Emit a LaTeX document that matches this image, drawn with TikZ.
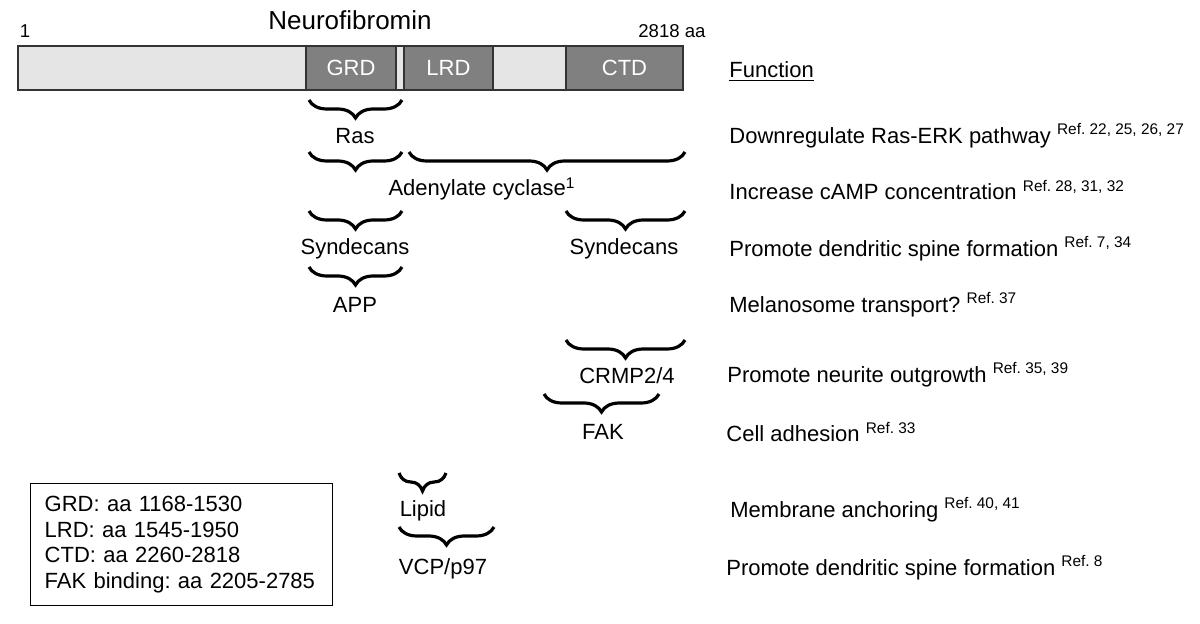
\documentclass[tikz,border=0pt]{standalone}
\usepackage{fontspec}
\setmainfont{Liberation Sans}
\usetikzlibrary{decorations.pathreplacing,positioning}

\tikzset{
  brc/.style={decorate, decoration={brace, mirror, amplitude=9pt}, line width=1.6pt},
  lbl/.style={inner sep=0pt, font=\fontsize{11}{13}\selectfont},
  fn/.style={anchor=west, inner sep=0pt, font=\fontsize{11}{13}\selectfont},
  dom/.style={draw=black!80, fill=gray, line width=0.9pt},
  domtxt/.style={inner sep=0pt, text=white, font=\fontsize{11}{13}\selectfont},
}
\newcommand\refs[1]{\raisebox{0.75ex}{\fontsize{7.7}{9}\selectfont Ref. #1}}
\frenchspacing

\begin{document}
\begin{tikzpicture}[x=0.5pt, y=-0.5pt]
\useasboundingbox (0,0) rectangle (1200,624);
% protein bar
\draw[draw=black!80, fill=gray!20, line width=0.9pt] (18,46) rectangle (683,90);
\foreach \a/\b/\t in {306/396/GRD, 404/493/LRD, 566/683/CTD} {
  \draw[dom] (\a,46) rectangle (\b,90);
  \node[domtxt] (\t) at ({(\a+\b)/2},68) {\t};
}
\node[lbl, font=\fontsize{13}{15}\selectfont] (title) at (350,20) {Neurofibromin};
\node[lbl, font=\fontsize{9.3}{11}\selectfont] (first) at (25,31) {1};
\node[lbl, font=\fontsize{9.3}{11}\selectfont, anchor=east] (last) at (706,31) {2818 aa};
\node[fn] (head) at (729,72) {\underline{Function}};

% binding partners
\coordinate (rasL) at (309,100);  \coordinate (rasR) at (402,100);
\coordinate (acAL) at (309,152);  \coordinate (acAR) at (402,152);
\coordinate (acBL) at (409,152);  \coordinate (acBR) at (685,152);
\coordinate (syAL) at (309,211);  \coordinate (syAR) at (402,211);
\coordinate (syBL) at (566,211);  \coordinate (syBR) at (685,211);
\coordinate (appL) at (309,267);  \coordinate (appR) at (402,267);
\coordinate (crmL) at (566,340);  \coordinate (crmR) at (685,340);
\coordinate (fakL) at (544,394);  \coordinate (fakR) at (659,394);
\coordinate (lipL) at (399,473);  \coordinate (lipR) at (446,473);
\coordinate (vcpL) at (399,527);  \coordinate (vcpR) at (494,527);
\draw[brc] (rasL) -- (rasR);
\draw[brc] (acAL) -- (acAR);
\draw[brc] (acBL) -- (acBR);
\draw[brc] (syAL) -- (syAR);
\draw[brc] (syBL) -- (syBR);
\draw[brc] (appL) -- (appR);
\draw[brc] (crmL) -- (crmR);
\draw[brc] (fakL) -- (fakR);
\draw[brc] (lipL) -- (lipR);
\draw[brc] (vcpL) -- (vcpR);

\node[lbl] (ras) at (355,136) {Ras};
\node[lbl] (ac) at (482,189) {Adenylate cyclase\textsuperscript{1}};
\node[lbl] (syA) at (355,249) {Syndecans};
\node[lbl] (syB) at (624,249) {Syndecans};
\node[lbl] (app) at (355,305) {APP};
\node[lbl] (crmp) at (627,376) {CRMP2/4};
\node[lbl] (fak) at (603,432) {FAK};
\node[lbl] (lipid) at (423,511) {Lipid};
\node[lbl] (vcp) at (443,569) {VCP/p97};

% functions
\node[fn] (f1) at (729,136) {Downregulate Ras-ERK pathway \refs{22, 25, 26, 27}};
\node[fn] (f2) at (729,190) {Increase cAMP concentration \refs{28, 31, 32}};
\node[fn] (f3) at (729,249) {Promote dendritic spine formation \refs{7, 34}};
\node[fn] (f4) at (729,305) {Melanosome transport? \refs{37}};
\node[fn] (f5) at (727,375) {Promote neurite outgrowth \refs{35, 39}};
\node[fn] (f6) at (726,432) {Cell adhesion \refs{33}};
\node[fn] (f7) at (730,510) {Membrane anchoring \refs{40, 41}};
\node[fn] (f8) at (726,568) {Promote dendritic spine formation \refs{8}};

% legend
\node[draw, line width=0.7pt, anchor=north west, align=left, inner xsep=7pt, inner ysep=5pt,
  font=\fontsize{11}{12.7}\selectfont, minimum width=151pt, minimum height=61pt,
  text width=137pt] (key) at (30,483)
  {GRD: aa 1168-1530\\ LRD: aa 1545-1950\\ CTD: aa 2260-2818\\ FAK binding: aa 2205-2785};
\end{tikzpicture}
\end{document}
